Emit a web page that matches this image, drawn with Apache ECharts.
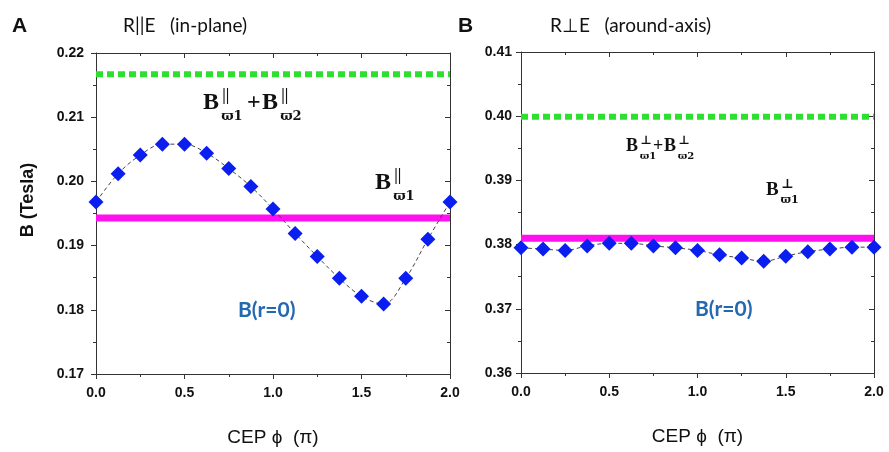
<!DOCTYPE html>
<html>
<head>
<meta charset="utf-8">
<script src="https://cdn.jsdelivr.net/npm/echarts@6/dist/echarts.min.js"></script>
<style>html,body{margin:0;padding:0;background:#fff;}#c{width:889px;height:452px;}</style>
</head>
<body>
<div id="c"></div>
<script>
// ---- data ----
const cep = [0, 0.125, 0.25, 0.375, 0.5, 0.625, 0.75, 0.875, 1.0, 1.125, 1.25, 1.375, 1.5, 1.625, 1.75, 1.875, 2.0];
const bInPlane = [0.1968, 0.2012, 0.2041, 0.2058, 0.2058, 0.2044, 0.2020, 0.1992, 0.1957, 0.1919, 0.1883, 0.1849, 0.1821, 0.1809, 0.1849, 0.1910, 0.1968];
const bAroundAxis = [0.3795, 0.3793, 0.3791, 0.3798, 0.3802, 0.3802, 0.3798, 0.3795, 0.3791, 0.3784, 0.3779, 0.3774, 0.3782, 0.3789, 0.3793, 0.3796, 0.3796];
const sumInPlane = 0.2167;   // B||w1 + B||w2
const w1InPlane = 0.1943;    // B||w1
const sumAround = 0.3999;    // B⊥w1 + B⊥w2
const w1Around = 0.3810;     // B⊥w1
const xRange = [0, 2];
const yRangeA = [0.17, 0.22];
const yRangeB = [0.36, 0.41];
const xStep = 0.5, yStep = 0.01;

const pairs = (xs, ys) => xs.map((x, i) => [x, ys[i]]);
const flat = v => [[xRange[0], v], [xRange[1], v]];

const axisCol = '#333';
const tickFont = { fontFamily: 'Liberation Sans, Arial', fontWeight: 'bold', fontSize: 14, color: '#111' };

function xAx(grid, pos) {
  const bottom = pos === 'bottom';
  return {
    gridIndex: grid, type: 'value', position: pos, min: xRange[0], max: xRange[1], interval: xStep,
    axisLine: { show: true, onZero: false, lineStyle: { color: axisCol, width: 1 } },
    axisTick: { show: true, inside: !bottom, length: 5, lineStyle: { color: axisCol } },
    minorTick: { show: true, splitNumber: 2, length: 3, lineStyle: { color: axisCol } },
    splitLine: { show: false },
    axisLabel: bottom ? Object.assign({ margin: 12, formatter: v => v.toFixed(1) }, tickFont) : { show: false },
    name: bottom ? 'CEP ϕ  (π)' : '', nameLocation: 'middle', nameGap: 54,
    nameTextStyle: { fontFamily: 'Liberation Sans Narrow, Liberation Sans, Arial', fontSize: 19, color: '#111' }
  };
}
function yAx(grid, pos, range, margin) {
  const left = pos === 'left';
  return {
    gridIndex: grid, type: 'value', position: pos, min: range[0], max: range[1], interval: yStep,
    axisLine: { show: true, onZero: false, lineStyle: { color: axisCol, width: 1 } },
    axisTick: { show: true, inside: !left, length: 5, lineStyle: { color: axisCol } },
    minorTick: { show: true, splitNumber: 2, length: 3, lineStyle: { color: axisCol } },
    splitLine: { show: false },
    axisLabel: left ? Object.assign({ margin: margin, formatter: v => v.toFixed(2) }, tickFont) : { show: false }
  };
}

const green = '#2ee02e', magenta = '#ff10ee', blue = '#0a1ef0';
function panelSeries(xi, yi, pts, sumV, w1V) {
  return [
    { type: 'line', xAxisIndex: xi, yAxisIndex: yi, data: flat(sumV), symbol: 'none', silent: true,
      lineStyle: { color: green, width: 6, type: [7, 4], cap: 'butt' }, z: 2 },
    { type: 'line', xAxisIndex: xi, yAxisIndex: yi, data: flat(w1V), symbol: 'none', silent: true,
      lineStyle: { color: magenta, width: 7 }, z: 3 },
    { type: 'line', xAxisIndex: xi, yAxisIndex: yi, data: pts, smooth: 0.35, symbol: 'diamond', symbolSize: 15,
      itemStyle: { color: blue }, lineStyle: { color: '#444', width: 1, type: [4, 3] }, z: 4 }
  ];
}

const serif = '"Liberation Serif", "DejaVu Serif", serif';
function txt(text, x, y, font, fill, align, valign) {
  return { type: 'text', style: { text: text, x: x, y: y, font: font, fill: fill || '#111', textAlign: align || 'left', textVerticalAlign: valign || 'middle' } };
}
function bSym(x, y, size, supCh, subTxt) {
  return [
    txt('B', x, y, 'bold ' + size + 'px ' + serif),
    txt(supCh, x + size * 0.8, y - size * 0.3, 'bold ' + Math.round(size * 0.66) + 'px ' + serif),
    txt(subTxt, x + size * 0.76, y + size * 0.56, 'bold ' + Math.round(size * 0.56) + 'px "DejaVu Serif", serif')
  ];
}

const titleFont = '19px Lato, "Open Sans", sans-serif';
const bFont = 'bold 21px Lato, "Open Sans", sans-serif';
const graphics = [].concat(
  [txt('A', 12, 26, 'bold 21px "Liberation Sans", Arial'),
   txt('R||E   (in-plane)', 123, 26, titleFont),
   txt('B', 458, 26, 'bold 21px "Liberation Sans", Arial'),
   txt('R⊥E   (around-axis)', 550, 26, titleFont),
   { type: 'text', rotation: Math.PI / 2, x: 28, y: 200,
     style: { text: 'B (Tesla)', font: 'bold 18px "Liberation Sans", Arial', fill: '#111', textAlign: 'center', textVerticalAlign: 'middle' } },
   txt('B(r=0)', 238, 310, bFont, '#2468b0'),
   txt('B(r=0)', 695, 309, bFont, '#2468b0'),
   txt('+', 247, 103, 'bold 24px ' + serif)],
  bSym(203, 103, 24, '||', 'ϖ1'),
  bSym(262, 103, 24, '||', 'ϖ2'),
  bSym(375, 183, 24, '||', 'ϖ1'),
  bSym(626, 146, 18, '⊥', 'ϖ1'),
  [txt('+', 653, 146, 'bold 18px ' + serif)],
  bSym(664, 146, 18, '⊥', 'ϖ2'),
  bSym(766, 190, 19, '⊥', 'ϖ1')
);

const chart = echarts.init(document.getElementById('c'), null, { renderer: 'canvas' });
chart.setOption({
  animation: false,
  backgroundColor: '#fff',
  grid: [
    { left: 96, top: 53, width: 354, height: 321 },
    { left: 521, top: 52, width: 353, height: 321 }
  ],
  xAxis: [xAx(0, 'bottom'), xAx(0, 'top'), xAx(1, 'bottom'), xAx(1, 'top')],
  yAxis: [yAx(0, 'left', yRangeA, 12), yAx(0, 'right', yRangeA, 12), yAx(1, 'left', yRangeB, 9), yAx(1, 'right', yRangeB, 9)],
  series: [].concat(
    panelSeries(0, 0, pairs(cep, bInPlane), sumInPlane, w1InPlane),
    panelSeries(2, 2, pairs(cep, bAroundAxis), sumAround, w1Around)
  ),
  graphic: graphics
});
</script>
</body>
</html>
